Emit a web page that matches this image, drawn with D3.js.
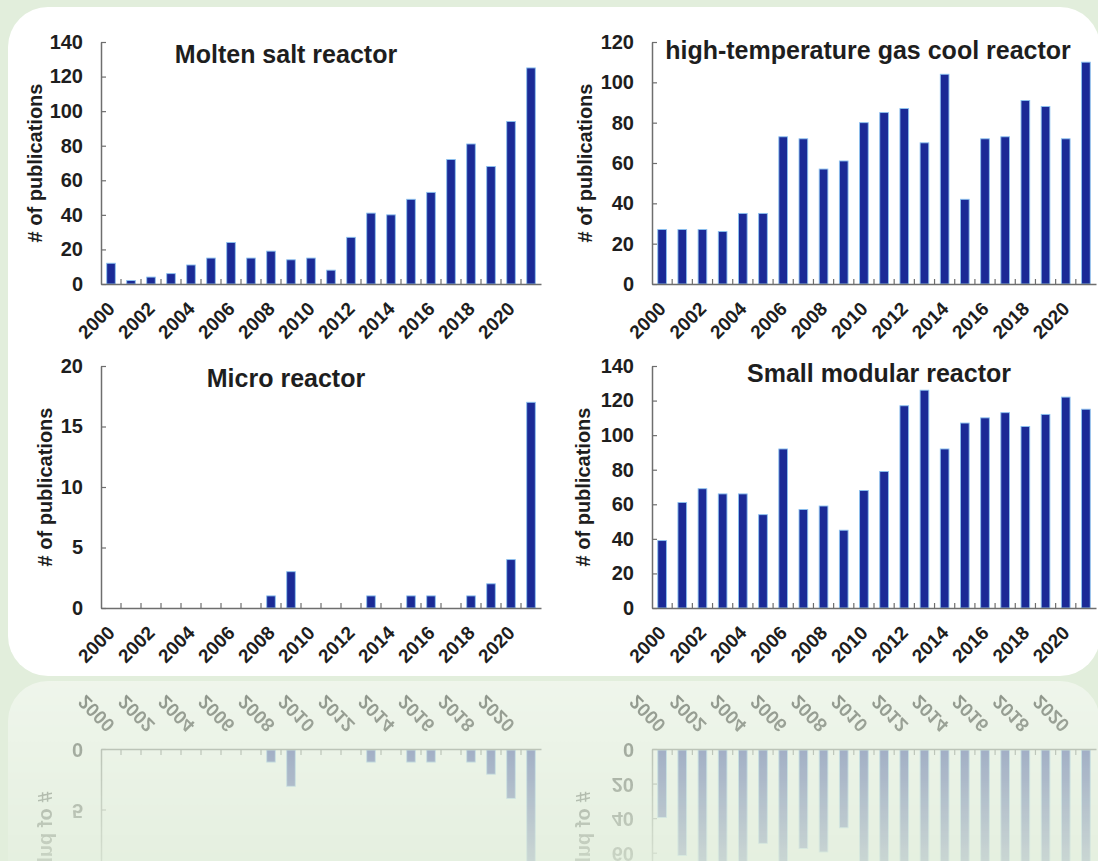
<!DOCTYPE html>
<html><head><meta charset="utf-8">
<script src="https://cdn.jsdelivr.net/npm/d3@7"></script>
<style>html,body{margin:0;padding:0;background:#e2eedc;} svg{display:block}</style>
</head><body>
<svg id="c" width="1098" height="861"></svg>
<script>
const years = [2000,2001,2002,2003,2004,2005,2006,2007,2008,2009,2010,2011,2012,2013,2014,2015,2016,2017,2018,2019,2020,2021];
const xTickLabels = [2000,2002,2004,2006,2008,2010,2012,2014,2016,2018,2020];
const moltenSalt = [12,2,4,6,11,15,24,15,19,14,15,8,27,41,40,49,53,72,81,68,94,125];
const htgr = [27,27,27,26,35,35,73,72,57,61,80,85,87,70,104,42,72,73,91,88,72,110];
const micro = [0,0,0,0,0,0,0,0,1,3,0,0,0,1,0,1,1,0,1,2,4,17];
const smr = [39,61,69,66,66,54,92,57,59,45,68,79,117,126,92,107,110,113,105,112,122,115];
const yTicks140 = [0,20,40,60,80,100,120,140];
const yTicks120 = [0,20,40,60,80,100,120];
const yTicks20 = [0,5,10,15,20];
const titles = ["Molten salt reactor","high-temperature gas cool reactor","Micro reactor","Small modular reactor"];
const yTitle = "# of publications";

const svg = d3.select('#c');
const defs = svg.append('defs');
const FONT = "'Liberation Sans', Arial, sans-serif";

svg.append('rect').attr('width',1098).attr('height',861).attr('fill','#e2eedc');

const lg = defs.append('linearGradient').attr('id','fade')
  .attr('gradientUnits','userSpaceOnUse').attr('x1',0).attr('y1',679).attr('x2',0).attr('y2',861);
lg.append('stop').attr('offset',0).attr('stop-color','#fff').attr('stop-opacity',0.45);
lg.append('stop').attr('offset',1).attr('stop-color','#fff').attr('stop-opacity',0.12);
defs.append('mask').attr('id','refmask').attr('maskUnits','userSpaceOnUse')
  .attr('x',0).attr('y',679).attr('width',1098).attr('height',200)
  .append('rect').attr('x',0).attr('y',679).attr('width',1098).attr('height',200).attr('fill','url(#fade)');

svg.append('rect').attr('x',8).attr('y',7).attr('width',1092).attr('height',669).attr('rx',40).attr('fill','#ffffff');

const charts = [
  {title:titles[0], values:moltenSalt, ticks:yTicks140, x0:101, x1:541, yTop:42, yBot:284, tx:286, ty:63, ytx:35},
  {title:titles[1], values:htgr, ticks:yTicks120, x0:652, x1:1096, yTop:42, yBot:284, tx:868, ty:59, ytx:585},
  {title:titles[2], values:micro, ticks:yTicks20, x0:101, x1:541, yTop:366, yBot:608, tx:286, ty:387, ytx:45},
  {title:titles[3], values:smr, ticks:yTicks140, x0:652, x1:1096, yTop:366, yBot:608, tx:879, ty:382, ytx:583}
];

const bottomGroup = svg.append('g').attr('id','bottomCharts');
const topGroup = svg.append('g');

charts.forEach((c,i) => {
  const g = (i < 2 ? topGroup : bottomGroup).append('g');
  const x = d3.scaleBand().domain(years).range([c.x0, c.x1]);
  const y = d3.scaleLinear().domain([0, c.ticks[c.ticks.length-1]]).range([c.yBot, c.yTop]);
  const bw = x.bandwidth()*0.43;

  g.selectAll('rect.bar').data(years.map((yr,k)=>({yr, v:c.values[k]})).filter(d=>d.v>0))
    .join('rect').attr('class','bar')
    .attr('x', d => x(d.yr) + (x.bandwidth()-bw)/2)
    .attr('y', d => y(d.v))
    .attr('width', bw)
    .attr('height', d => y(0)-y(d.v))
    .attr('fill','#1b2a96').attr('stroke','#8cc2f0').attr('stroke-width',0.9);

  const ya = g.append('g').attr('transform',`translate(${c.x0},0)`)
    .call(d3.axisLeft(y).tickValues(c.ticks).tickSizeInner(-5).tickSizeOuter(0).tickPadding(18));
  ya.select('.domain').attr('stroke','#6e6e6e').attr('stroke-width',1.5);
  ya.selectAll('.tick line').attr('stroke','#6e6e6e').attr('stroke-width',1.2);
  ya.selectAll('.tick text').attr('font-family',FONT).attr('font-weight','bold').attr('font-size',20).attr('fill','#1e1e1e');

  const xa = g.append('g').attr('transform',`translate(0,${c.yBot})`)
    .call(d3.axisBottom(x).tickValues([]).tickSizeOuter(0));
  xa.select('.domain').attr('stroke','#6e6e6e').attr('stroke-width',1.5);
  g.selectAll('line.mt').data(years.slice(1)).join('line').attr('class','mt')
    .attr('x1', d=>x(d)).attr('x2', d=>x(d)).attr('y1', c.yBot).attr('y2', c.yBot-5)
    .attr('stroke','#6e6e6e').attr('stroke-width',1.2);
  g.selectAll('text.xl').data(xTickLabels).join('text').attr('class','xl')
    .attr('transform', d => `translate(${x(d)+x.bandwidth()/2+5},${c.yBot+26}) rotate(-45)`)
    .attr('text-anchor','end')
    .attr('font-family',FONT).attr('font-weight','bold').attr('font-size',19).attr('fill','#1e1e1e')
    .text(d=>d);

  g.append('text').attr('transform',`translate(${c.ytx+7},${(c.yTop+c.yBot)/2}) rotate(-90)`)
    .attr('text-anchor','middle').attr('font-family',FONT).attr('font-weight','bold').attr('font-size',20)
    .attr('fill','#1e1e1e').text(yTitle);

  g.append('text').attr('x',c.tx).attr('y',c.ty).attr('text-anchor','middle')
    .attr('font-family',FONT).attr('font-weight','bold').attr('font-size',25).attr('fill','#1e1e1e')
    .text(c.title);
});

const refl = svg.append('g').attr('mask','url(#refmask)');
refl.append('rect').attr('x',8).attr('y',681).attr('width',1092).attr('height',300).attr('rx',40).attr('fill','#ffffff');
refl.append('use').attr('href','#bottomCharts').attr('transform','translate(0,1358) scale(1,-1)');
</script>
</body></html>
